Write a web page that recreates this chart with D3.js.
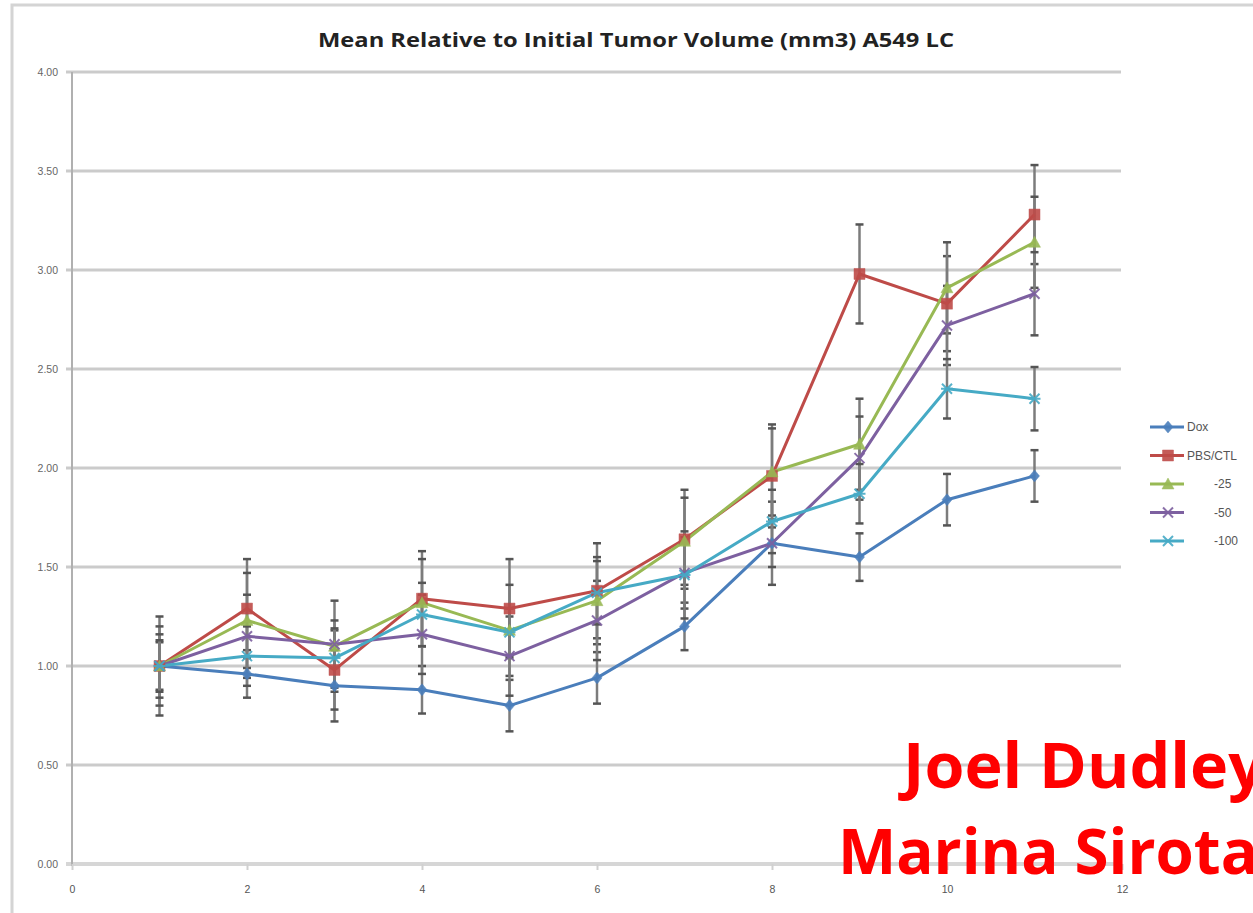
<!DOCTYPE html>
<html>
<head>
<meta charset="utf-8">
<script src="https://cdn.jsdelivr.net/npm/d3@7"></script>
<style>
  html, body { margin: 0; padding: 0; background: #fff; }
  svg { display: block; }
</style>
</head>
<body>
<svg id="chart" width="1253" height="913"></svg>
<script>
// ---- data ----
const days = [1, 2, 3, 4, 5, 6, 7, 8, 9, 10, 11];
const seriesNames = ["Dox", "PBS/CTL", "-25", "-50", "-100"];
const doxValues  = [1.00, 0.96, 0.90, 0.88, 0.80, 0.94, 1.20, 1.62, 1.55, 1.84, 1.96];
const pbsValues  = [1.00, 1.29, 0.98, 1.34, 1.29, 1.38, 1.64, 1.96, 2.98, 2.83, 3.28];
const g25Values  = [1.00, 1.23, 1.10, 1.32, 1.18, 1.33, 1.63, 1.98, 2.12, 2.91, 3.14];
const g50Values  = [1.00, 1.15, 1.11, 1.16, 1.05, 1.23, 1.47, 1.62, 2.05, 2.72, 2.88];
const g100Values = [1.00, 1.05, 1.04, 1.26, 1.17, 1.37, 1.46, 1.73, 1.87, 2.40, 2.35];
const doxErr  = [0.12, 0.12, 0.18, 0.12, 0.13, 0.13, 0.12, 0.21, 0.12, 0.13, 0.13];
const pbsErr  = [0.25, 0.25, 0.20, 0.24, 0.25, 0.24, 0.25, 0.26, 0.25, 0.24, 0.25];
const g25Err  = [0.20, 0.24, 0.23, 0.22, 0.23, 0.22, 0.22, 0.22, 0.23, 0.23, 0.23];
const g50Err  = [0.16, 0.21, 0.12, 0.20, 0.20, 0.20, 0.18, 0.12, 0.21, 0.20, 0.21];
const g100Err = [0.13, 0.15, 0.15, 0.16, 0.12, 0.16, 0.22, 0.16, 0.15, 0.15, 0.16];
const xTicks = [0, 2, 4, 6, 8, 10, 12];
const yTicks = [0, 0.5, 1, 1.5, 2, 2.5, 3, 3.5, 4];
const titleText = "Mean Relative to Initial Tumor Volume (mm3) A549 LC";
const watermark = ["Joel Dudley", "Marina Sirota"];

// ---- styles ----
const colors = ["#4A7EBB", "#BE4B48", "#98B954", "#7D60A0", "#46AAC5"];
const markerTypes = ["diamond", "square", "triangle", "times", "asterisk"];

const series = [
  {name: seriesNames[0], values: doxValues,  err: doxErr},
  {name: seriesNames[1], values: pbsValues,  err: pbsErr},
  {name: seriesNames[2], values: g25Values,  err: g25Err},
  {name: seriesNames[3], values: g50Values,  err: g50Err},
  {name: seriesNames[4], values: g100Values, err: g100Err}
];

const svg = d3.select("#chart");
const x = d3.scaleLinear().domain([0, 12]).range([72, 1122]);
const y = d3.scaleLinear().domain([0, 4]).range([864, 72]);

// outer frame
svg.append("path").attr("d", "M12,913 L12,5 L1253,5")
  .attr("fill", "none").attr("stroke", "#d4d4d4").attr("stroke-width", 3);

// title
svg.append("text").attr("x", 636).attr("y", 47)
  .attr("text-anchor", "middle")
  .attr("font-family", "Open Sans, sans-serif").attr("font-weight", "bold")
  .attr("font-size", 20).attr("fill", "#222")
  .attr("textLength", 636).attr("lengthAdjust", "spacingAndGlyphs")
  .text(titleText);

// gridlines
const grid = svg.append("g");
grid.selectAll("line").data(yTicks).join("line")
  .attr("x1", 66).attr("x2", 1121)
  .attr("y1", d => y(d)).attr("y2", d => y(d))
  .attr("stroke", d => d === 0 ? "#d6d6d6" : "#cbcbcb")
  .attr("stroke-width", d => d === 0 ? 4 : 3);

// y axis
const yAxis = d3.axisLeft(y).tickValues(yTicks).tickFormat(d3.format(".2f")).tickSize(0).tickPadding(14);
const yg = svg.append("g").attr("transform", "translate(72,0)").call(yAxis);
yg.select(".domain").remove();
yg.selectAll("text").attr("font-family", "Liberation Sans, sans-serif").attr("font-size", 10.5)
  .attr("fill", "#666");
svg.append("line").attr("x1", 72).attr("x2", 72).attr("y1", y(4)).attr("y2", y(0) + 2)
  .attr("stroke", "#b0b0b0").attr("stroke-width", 2);

// x axis
const xAxis = d3.axisBottom(x).tickValues(xTicks).tickSize(6).tickPadding(16);
const xg = svg.append("g").attr("transform", `translate(0,${y(0)})`).call(xAxis);
xg.select(".domain").remove();
xg.selectAll(".tick line").attr("stroke", "#d0d0d0").attr("stroke-width", 2);
xg.selectAll("text").attr("font-family", "Liberation Sans, sans-serif").attr("font-size", 10.5)
  .attr("fill", "#555");

// error bars
const eb = svg.append("g");
series.forEach((s, si) => {
  const g = eb.append("g");
  const pts = days.map((d, i) => ({d, v: s.values[i], e: s.err[i]}));
  g.selectAll("line.v").data(pts).join("line").attr("class", "v")
    .attr("x1", p => x(p.d)).attr("x2", p => x(p.d))
    .attr("y1", p => y(p.v + p.e)).attr("y2", p => y(p.v - p.e))
    .attr("stroke", "#7c7c7c").attr("stroke-width", 2.5);
  ["top", "bot"].forEach(k => {
    g.selectAll("line." + k).data(pts).join("line").attr("class", k)
      .attr("x1", p => x(p.d) - 4).attr("x2", p => x(p.d) + 4)
      .attr("y1", p => y(k === "top" ? p.v + p.e : p.v - p.e))
      .attr("y2", p => y(k === "top" ? p.v + p.e : p.v - p.e))
      .attr("stroke", "#555").attr("stroke-width", 2.5);
  });
});

// markers
function markerPath(type) {
  switch (type) {
    case "diamond": return "M0,-6L5,0L0,6L-5,0Z";
    case "square": return "M-5.5,-5.5H5.5V5.5H-5.5Z";
    case "triangle": return "M0,-6L6,5H-6Z";
    case "times": return "M-5,-5L5,5M5,-5L-5,5";
    case "asterisk": return "M-5,-5L5,5M5,-5L-5,5M-6,0H6";
  }
}
function drawMarker(g, type, color, cx, cy) {
  const stroke = (type === "times" || type === "asterisk");
  g.append("path").attr("d", markerPath(type))
    .attr("transform", `translate(${cx},${cy})`)
    .attr("fill", stroke ? "none" : color)
    .attr("stroke", color).attr("stroke-width", stroke ? 2 : 0.5)
    .attr("opacity", 0.9);
}

// lines
const line = d3.line().x((d, i) => x(days[i])).y(d => y(d));
const lg = svg.append("g");
series.forEach((s, si) => {
  lg.append("path").datum(s.values).attr("d", line)
    .attr("fill", "none").attr("stroke", colors[si]).attr("stroke-width", 3)
    .attr("stroke-linejoin", "round");
});
series.forEach((s, si) => {
  const g = lg.append("g");
  s.values.forEach((v, i) => drawMarker(g, markerTypes[si], colors[si], x(days[i]), y(v)));
});

// legend
const legY = d3.scaleLinear().domain([0, 4]).range([427, 541]);
const leg = svg.append("g");
series.forEach((s, si) => {
  const yy = legY(si);
  leg.append("line").attr("x1", 1150).attr("x2", 1184).attr("y1", yy).attr("y2", yy)
    .attr("stroke", colors[si]).attr("stroke-width", 3);
  drawMarker(leg, markerTypes[si], colors[si], 1168, yy);
  leg.append("text").attr("x", si < 2 ? 1187 : 1214).attr("y", yy + 4)
    .attr("font-family", "Liberation Sans, sans-serif").attr("font-size", 12)
    .attr("fill", "#555").text(s.name);
});

// watermark
const wm = svg.append("g").attr("font-family", "Open Sans, sans-serif")
  .attr("font-weight", "bold").attr("fill", "#FF0000").attr("font-size", 62);
wm.append("text").attr("x", 903).attr("y", 788)
  .attr("textLength", 362).attr("lengthAdjust", "spacingAndGlyphs").text(watermark[0]);
wm.append("text").attr("x", 838).attr("y", 874)
  .attr("textLength", 420).attr("lengthAdjust", "spacingAndGlyphs").text(watermark[1]);
</script>
</body>
</html>
